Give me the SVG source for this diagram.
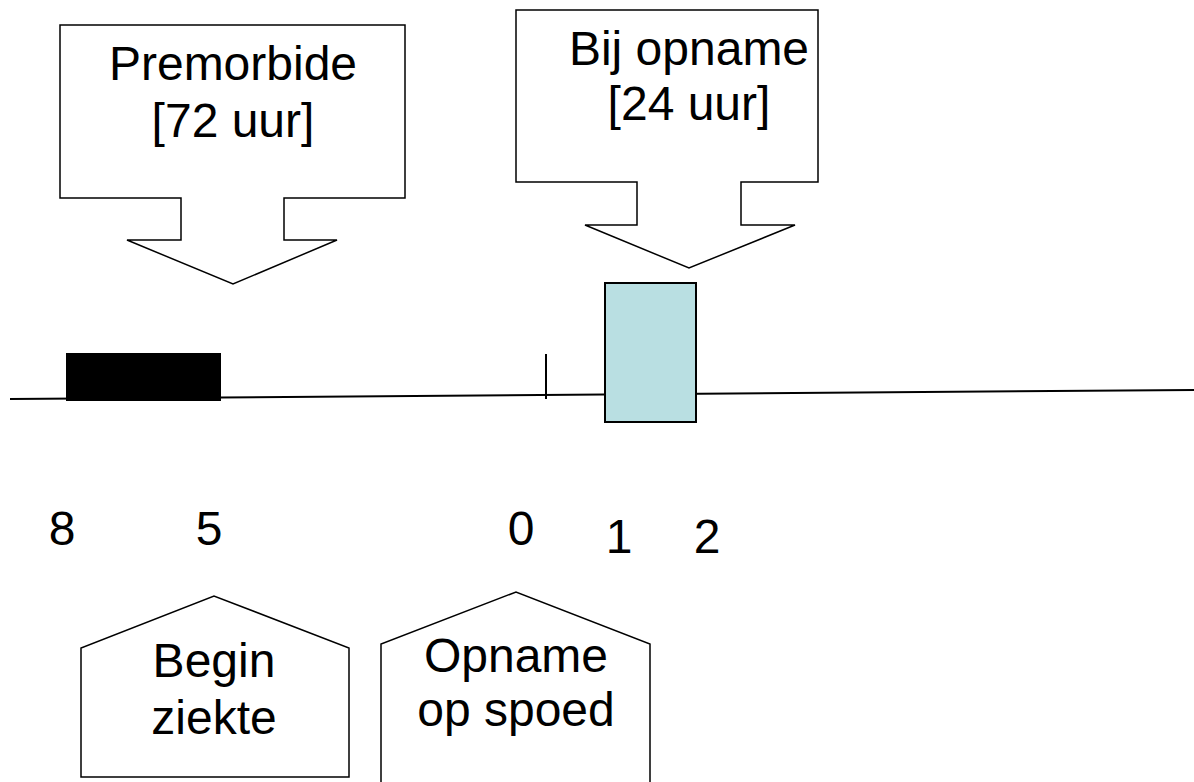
<svg xmlns="http://www.w3.org/2000/svg" width="1194" height="782" viewBox="0 0 1194 782">
<style>
.shape{fill:#ffffff;stroke:#000000;stroke-width:1.5;stroke-linejoin:miter}
.t{font-family:"Liberation Sans",Arial,sans-serif;font-size:48px;fill:#000000;text-anchor:middle}
.line{stroke:#000000;stroke-width:2;fill:none}
</style>
<rect width="1194" height="782" fill="#ffffff"/>
<g id="connectors">
<line class="line" x1="10" y1="399" x2="1194" y2="390"/>
<line class="line" x1="546" y1="354" x2="546" y2="399"/>
</g>
<g id="premorbide-period">
<rect x="66" y="353" width="155" height="48" fill="#000000"/>
</g>
<g id="opname-period">
<rect x="605" y="283" width="91" height="139" fill="#b9dfe2" stroke="#000000" stroke-width="2"/>
</g>
<g id="callout-premorbide">
<path class="shape" d="M60,25 H405 V198 H284 V240 H337 L233,284 L127,240 H181 V198 H60 Z"/>
<text class="t" x="233" y="80">Premorbide</text>
<text class="t" x="233" y="137">[72 uur]</text>
</g>
<g id="callout-bij-opname">
<path class="shape" d="M516,10 H818 V182 H741 V225 H795 L689,268 L585,225 H637 V182 H516 Z"/>
<text class="t" x="689" y="65">Bij opname</text>
<text class="t" x="689" y="120">[24 uur]</text>
</g>
<g id="tick-labels">
<text class="t" x="62" y="545">8</text>
<text class="t" x="209" y="545">5</text>
<text class="t" x="521" y="545">0</text>
<text class="t" x="619" y="553">1</text>
<text class="t" x="707" y="553">2</text>
</g>
<g id="begin-ziekte">
<path class="shape" d="M81,777 V648 L214,596 L349,648 V777 Z"/>
<text class="t" x="214" y="677">Begin</text>
<text class="t" x="214" y="734">ziekte</text>
</g>
<g id="opname-op-spoed">
<path class="shape" d="M381,790 V644 L516,592 L650,644 V790"/>
<text class="t" x="516" y="672">Opname</text>
<text class="t" x="516" y="726">op spoed</text>
</g>
</svg>
